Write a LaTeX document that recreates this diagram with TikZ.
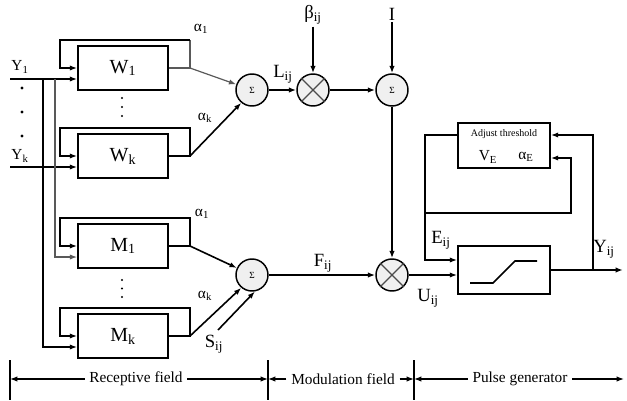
\documentclass[tikz,border=0pt]{standalone}
\usepackage{fontspec}
\setmainfont{Liberation Serif}
\usetikzlibrary{arrows.meta}
\newcommand{\sbs}[1]{\textsubscript{#1}}
\begin{document}
\begin{tikzpicture}[x=0.75pt,y=-0.75pt,
  line width=1.2pt,
  >={Latex[length=5.5pt,width=4pt]},
  wbox/.style={draw, line width=1.3pt, minimum width=67.5pt, minimum height=33pt, inner sep=0pt, font=\fontsize{15}{17}\selectfont},
  sumc/.style={circle, draw, line width=1.1pt, fill=gray!12, minimum size=24pt, inner sep=0pt, font=\fontsize{7}{8}\selectfont},
  mulc/.style={circle, draw, line width=1.1pt, fill=gray!12, minimum size=24pt, inner sep=0pt},
  lab/.style={font=\fontsize{14}{16}\selectfont, inner sep=1pt},
  alab/.style={font=\fontsize{11.5}{13}\selectfont, inner sep=1pt},
  blab/.style={font=\fontsize{11.5}{13}\selectfont, inner sep=3pt},
  gline/.style={draw=gray!70!black, line width=0.9pt},
]
\useasboundingbox (0,0) rectangle (627,400);

% receptive boxes
\node[wbox] (W1) at (123,68) {W\sbs{1}};
\node[wbox] (Wk) at (123,156) {W\sbs{k}};
\node[wbox] (M1) at (123,246) {M\sbs{1}};
\node[wbox] (Mk) at (123,336) {M\sbs{k}};

% summation and multiplication nodes
\node[sumc] (S1) at (252,90) {Σ};
\node[mulc] (X1) at (313,90) {};
\node[sumc] (S2) at (392,90) {Σ};
\node[mulc] (X2) at (392,275) {};
\node[sumc] (S3) at (252,275) {Σ};
\foreach \n in {X1,X2}{
  \draw[line width=0.9pt, gray!60!black] (\n.north east) -- (\n.south west) (\n.north west) -- (\n.south east);
}

% output coordinates of boxes
\coordinate (w1o) at (190,68);
\coordinate (wko) at (190,156);
\coordinate (m1o) at (190,246);
\coordinate (mko) at (190,336);

% feedback loops
\draw[gline] (W1.east) -- (w1o) -- (190,40);
\draw[->] (190,40) -- (60,40) -- (60,68) -- (W1.west);
\draw[->] (Wk.east) -- (wko) -- (190,128) -- (60,128) -- (60,156) -- (Wk.west);
\draw[->] (M1.east) -- (m1o) -- (190,218) -- (60,218) -- (60,246) -- (M1.west);
\draw[->] (Mk.east) -- (mko) -- (190,308) -- (60,308) -- (60,336) -- (Mk.west);

% diagonals to sums
\draw[gline,->] (w1o) -- (S1);
\draw[->] (wko) -- (S1.-130);
\draw[->] (m1o) -- (S3);
\draw[->] (mko) -- (S3.-130);

% alpha labels
\node[alab] (a1) at (201,29) {α\sbs{1}};
\node[alab] (ak) at (205,118) {α\sbs{k}};
\node[alab] (a1m) at (202,214) {α\sbs{1}};
\node[alab] (akm) at (205,296) {α\sbs{k}};

% inputs
\coordinate (y1) at (10,79);
\coordinate (yk) at (10,167);
\coordinate (v1) at (43,79);
\coordinate (v2) at (55,79);
\coordinate (v1e) at (43,347);
\coordinate (v2e) at (55,257);
\node[alab] (Y1) at (20,67) {Y\sbs{1}};
\node[alab] (Yk) at (20,156) {Y\sbs{k}};
\draw[->] (y1) -- (W1.west |- y1);
\draw[->] (yk) -- (Wk.west |- yk);
\draw[->] (v1) -- (v1e) -- (Mk.west |- v1e);
\draw[gline,->] (v2) -- (v2e) -- (M1.west |- v2e);
\foreach \yy in {88,112,136}{ \fill (22,\yy) circle (1.3pt); }
\foreach \yy in {98,107,116}{ \fill (122,\yy) circle (0.9pt); }
\foreach \yy in {280,288.5,297}{ \fill (122,\yy) circle (0.9pt); }

% modulation
\node[lab] (Lij) at (283,74) {L\sbs{ij}};
\node[lab] (beta) at (313,15) {β\sbs{ij}};
\node[lab] (I) at (392,14) {I};
\draw[->] (beta) -- (X1);
\draw[->] (I) -- (S2);
\draw[->] (S1) -- (X1);
\draw[->] (X1) -- (S2);
\draw[->] (S2) -- (X2);
\draw[->] (S3) -- (X2);
\node[lab] (Fij) at (323,263) {F\sbs{ij}};
\coordinate (s0) at (218,330);
\draw[->] (s0) -- (S3.-80);
\node[lab] (Sij) at (214,344) {S\sbs{ij}};

% pulse generator
\node[draw, line width=1.3pt, minimum width=69pt, minimum height=36pt, inner sep=0pt] (P) at (504,270) {};
\node[draw, line width=1.3pt, minimum width=69pt, minimum height=33.75pt, inner sep=0pt] (A) at (504,145.5) {};
\node[font=\fontsize{7.5}{9}\selectfont, inner sep=0pt] (adj) at (504,134) {Adjust threshold};
\node[alab] (VE) at (488,157) {V\sbs{E}};
\node[alab] (aE) at (526,157) {α\sbs{E}};
\draw[line width=1.3pt] (470,283) -- (493,283) -- (515,261) -- (537,261);

\draw[->] (X2) -- (P.west |- X2);
\node[lab] (Uij) at (428,298) {U\sbs{ij}};

\coordinate (ea) at (425,135);
\coordinate (eb) at (425,260);
\coordinate (ej) at (425,213);
\coordinate (ec) at (571,213);
\coordinate (ed) at (571,158);
\draw[->] (A.west |- ea) -- (ea) -- (eb) -- (P.west |- eb);
\draw[->] (ej) -- (ec) -- (ed) -- (A.east |- ed);
\node[lab] (Eij) at (441,240) {E\sbs{ij}};

\coordinate (yo) at (623,270);
\coordinate (yj) at (593,270);
\coordinate (yt) at (593,135);
\draw[->] (P.east |- yo) -- (yo);
\draw[->] (yj) -- (yt) -- (A.east |- yt);
\node[lab] (Yij) at (604,249) {Y\sbs{ij}};

% bottom ranges
\draw[line width=0.9pt] (10,360) -- (10,400);
\draw[line width=0.9pt] (268,360) -- (268,400);
\draw[line width=0.9pt] (414,360) -- (414,400);
\node[blab] (rf) at (136,379) {Receptive field};
\node[blab] (mf) at (343,379) {Modulation field};
\node[blab] (pg) at (520,379) {Pulse generator};
\draw[->, line width=0.9pt] (rf.west) -- (10,379);
\draw[->, line width=0.9pt] (rf.east) -- (268,379);
\draw[->, line width=0.9pt] (mf.west) -- (268,379);
\draw[->, line width=0.9pt] (mf.east) -- (414,379);
\draw[->, line width=0.9pt] (pg.west) -- (414,379);
\draw[->, line width=0.9pt] (pg.east) -- (624,379);
\end{tikzpicture}
\end{document}
